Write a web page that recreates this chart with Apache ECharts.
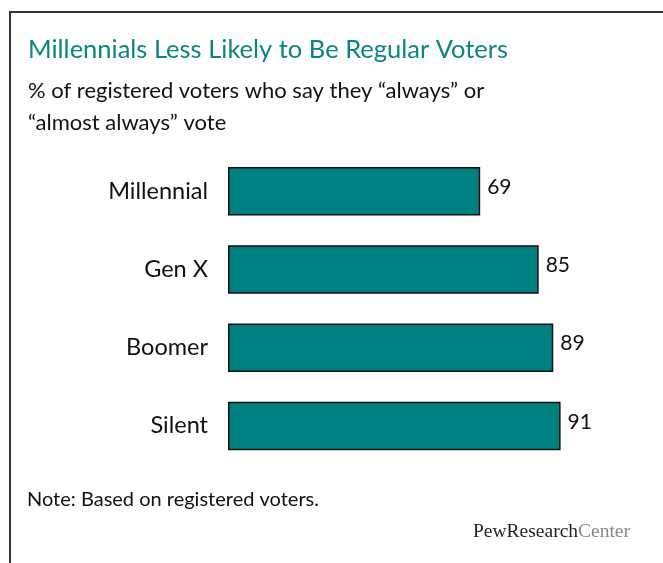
<!DOCTYPE html>
<html><head><meta charset="utf-8">
<script src="https://cdn.jsdelivr.net/npm/echarts@6/dist/echarts.min.js"></script>
<style>html,body{margin:0;padding:0;background:#fff}#c{width:663px;height:563px}</style>
</head><body><div id="c"></div>
<script>
const categories = ["Millennial", "Gen X", "Boomer", "Silent"];
const values = [69, 85, 89, 91];
const titleText = "Millennials Less Likely to Be Regular Voters";
const subtitleText = "% of registered voters who say they \u201calways\u201d or\n\u201calmost always\u201d vote";
const noteText = "Note: Based on registered voters.";

const chart = echarts.init(document.getElementById('c'));
chart.setOption({
  animation: false,
  backgroundColor: '#fff',
  textStyle: { fontFamily: 'Lato' },
  title: [
    { text: titleText, left: 23, top: 32, textStyle: { color: '#0b8580', fontSize: 25.5, fontWeight: 'normal', fontFamily: 'Lato' } },
    { text: subtitleText, left: 23, top: 70, textStyle: { color: '#111', fontSize: 22, fontWeight: 'normal', lineHeight: 32, fontFamily: 'Lato' } },
    { text: noteText, left: 22, top: 485, textStyle: { color: '#111', fontSize: 20, fontWeight: 'normal', fontFamily: 'Lato' } }
  ],
  graphic: [
    { type: 'polyline', shape: { points: [[10, 563], [10, 12], [663, 12]] }, style: { stroke: '#333', lineWidth: 2, fill: null } },
    { type: 'text', left: 473, top: 522, style: { rich: { a: { fontFamily: 'Liberation Serif', fontSize: 19.5, fill: '#222' }, b: { fontFamily: 'Liberation Serif', fontSize: 19.5, fill: '#888' } }, text: '{a|PewResearch}{b|Center}' } }
  ],
  grid: { left: 228, top: 152, width: 365.5, height: 313, containLabel: false },
  xAxis: { type: 'value', min: 0, max: 100, show: false },
  yAxis: {
    type: 'category', data: categories, inverse: true,
    axisLine: { show: false }, axisTick: { show: false },
    axisLabel: { color: '#111', fontSize: 23.5, margin: 20, fontFamily: 'Lato' }
  },
  series: [{
    type: 'bar', data: values, barWidth: 48.5,
    itemStyle: { color: '#008080', borderColor: '#111', borderWidth: 1.5 },
    label: { show: true, position: 'right', distance: 7, color: '#111', fontSize: 21, fontFamily: 'Lato', offset: [0, -4] }
  }]
});
</script></body></html>
